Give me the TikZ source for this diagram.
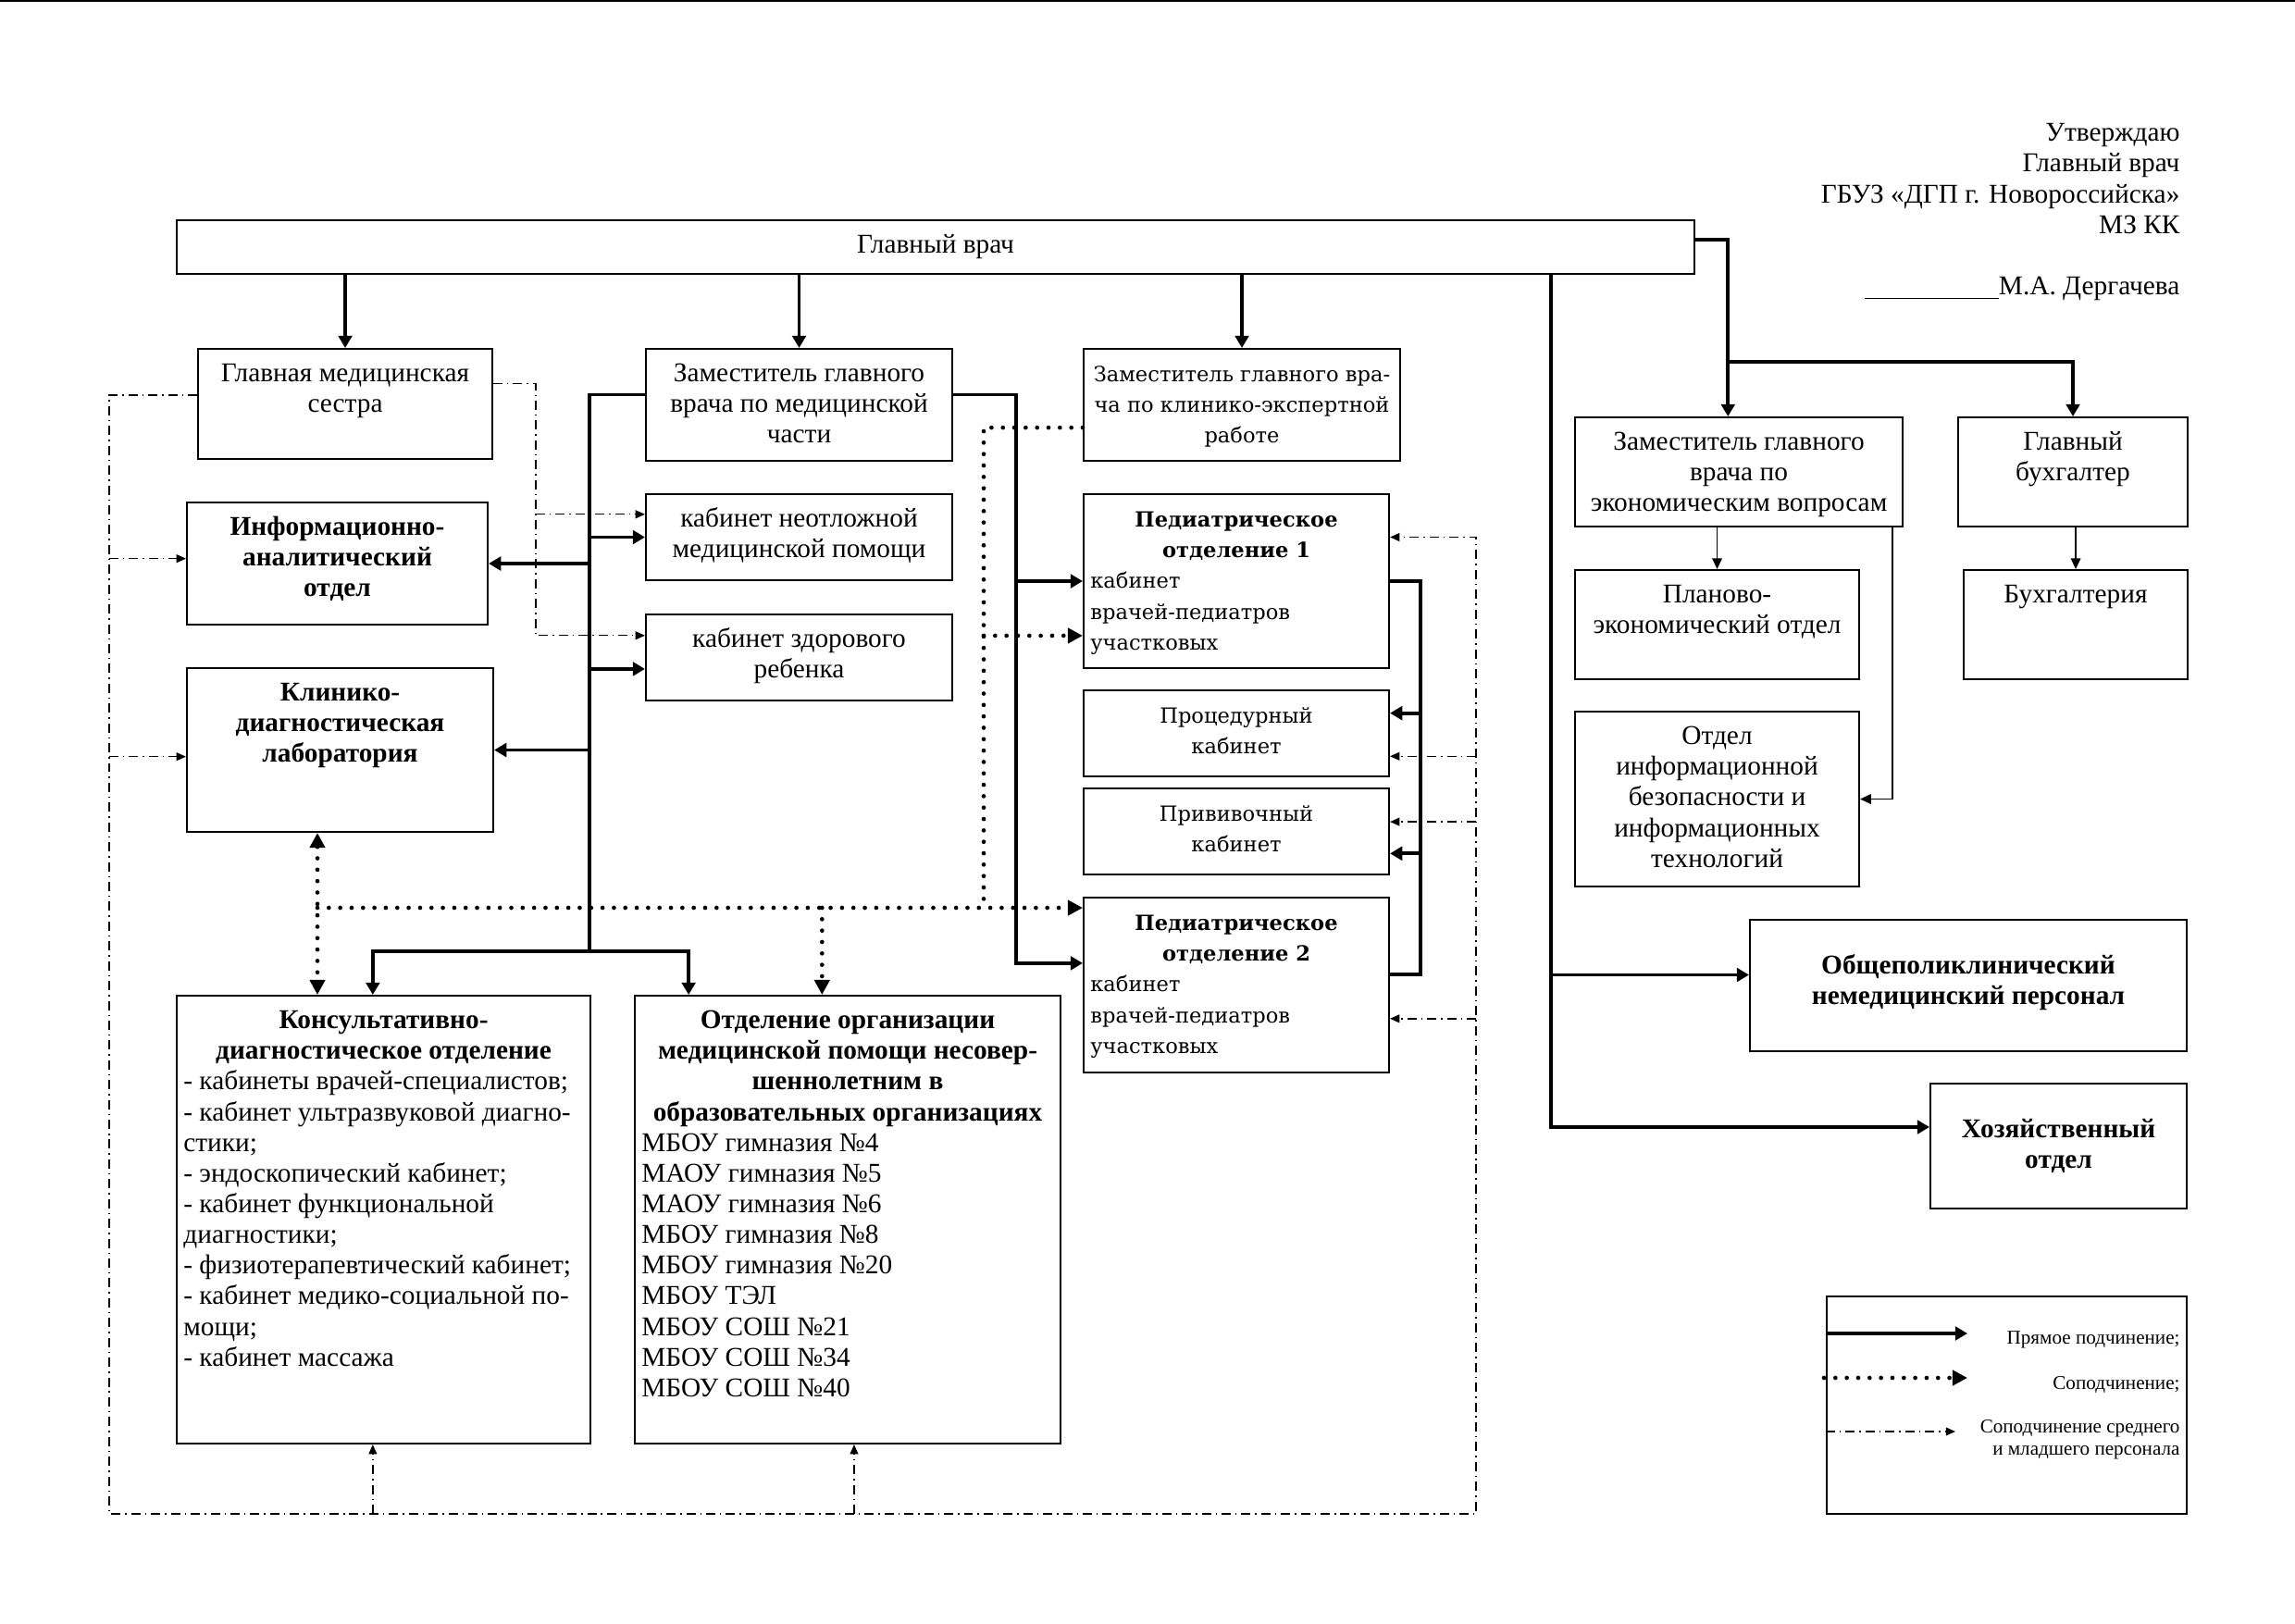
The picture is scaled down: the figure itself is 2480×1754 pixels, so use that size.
\documentclass[tikz,border=0pt]{standalone}
\usepackage{fontspec}
\setmainfont{Liberation Serif}
\newfontfamily\widefont{DejaVu Serif}
\usetikzlibrary{arrows.meta,calc,positioning}

\newdimen\px \px=0.011976cm
% text of a box: [gap] width height (in px), set from the top
\newcommand{\boxtxt}[4][4.2pt]{\parbox[c][#3\px][t]{#2\px}{\vspace*{#1}\centering\strut #4}}

\tikzset{
  box/.style={draw, line width=0.7pt, inner sep=0pt, anchor=north west,
    font=\fontsize{10}{11.3}\selectfont},
  widebox/.style={box, font=\widefont\fontsize{7.7}{11.3}\selectfont},
  legtext/.style={inner sep=0pt, align=right, font=\fontsize{7.2}{8.3}\selectfont},
  bus/.style={line width=1.3pt},
  direct/.style={bus, -{Triangle[length=4.5pt,width=5pt]}},
  thinarrow/.style={line width=0.6pt, -{Triangle[length=4pt,width=3.6pt]}},
  cosubline/.style={line width=1.6pt, line cap=round, dash pattern=on 0pt off 4.2pt},
  cosub/.style={cosubline, -{Triangle[length=5.5pt,width=5.5pt]}},
  staffline/.style={line width=0.45pt, dash pattern=on 3.4pt off 1.7pt on 0.5pt off 1.7pt},
  staff/.style={staffline, -{Triangle[length=3.5pt,width=3pt]}},
}

\begin{document}
\begin{tikzpicture}[x=0.011976cm, y=-0.011976cm]
\useasboundingbox (0,0) rectangle (2480,1754);
\draw[line width=0.7pt] (0,1) -- (2480,1);

% approval stamp
\node[anchor=north east, align=right, inner sep=0pt, font=\fontsize{10}{11.3}\selectfont] (appr) at (2356,133)
  {Утверждаю\\Главный врач\\ГБУЗ «ДГП г. Новороссийска»\\МЗ КК\\[11.3pt]\rule[-1.5pt]{1.74cm}{0.5pt}М.А. Дергачева};

% boxes
\node[box, minimum width=1640\px, minimum height=58\px] (main) at (190,237) {Главный врач};
\node[box] (gms) at (213,376) {\boxtxt{318}{119}{Главная медицинская\\сестра}};
\node[box] (zmed) at (697,376) {\boxtxt{331}{121}{Заместитель главного\\врача по медицинской\\части}};
\node[widebox] (zker) at (1170,376) {\boxtxt{342}{121}{Заместитель главного вра-\\ча по клинико-экспертной\\работе}};
\node[box] (inf) at (201,542) {\boxtxt{325}{132}{\textbf{Информационно-\\аналитический\\отдел}}};
\node[box] (neo) at (697,533) {\boxtxt{331}{93}{кабинет неотложной\\медицинской помощи}};
\node[box] (zdr) at (697,663) {\boxtxt{331}{93}{кабинет здорового\\ребенка}};
\node[box] (kdl) at (201,721) {\boxtxt{331}{177}{\textbf{Клинико-\\диагностическая\\лаборатория}}};
\node[widebox] (ped1) at (1170,533) {\boxtxt{330}{188}{\textbf{Педиатрическое\\отделение 1}\par
  \raggedright\leftskip=2.5pt кабинет\\врачей-педиатров\\участковых}};
\node[widebox] (proc) at (1170,745) {\boxtxt{330}{93}{Процедурный\\кабинет}};
\node[widebox] (priv) at (1170,851) {\boxtxt{330}{93}{Прививочный\\кабинет}};
\node[widebox] (ped2) at (1170,969) {\boxtxt{330}{189}{\textbf{Педиатрическое\\отделение 2}\par
  \raggedright\leftskip=2.5pt кабинет\\врачей-педиатров\\участковых}};
\node[box] (kdo) at (190,1075) {\boxtxt{447}{484}{\textbf{Консультативно-\\диагностическое отделение}\par
  \raggedright\leftskip=2.5pt - кабинеты врачей-специалистов;\\- кабинет ультразвуковой диагно-\\стики;\\- эндоскопический кабинет;\\- кабинет функциональной\\диагностики;\\- физиотерапевтический кабинет;\\- кабинет медико-социальной по-\\мощи;\\- кабинет массажа}};
\node[box] (oo) at (685,1075) {\boxtxt{460}{484}{\textbf{Отделение организации\\медицинской помощи несовер-\\шеннолетним в\\образовательных организациях}\par
  \raggedright\leftskip=2.5pt МБОУ гимназия №4\\МАОУ гимназия №5\\МАОУ гимназия №6\\МБОУ гимназия №8\\МБОУ гимназия №20\\МБОУ ТЭЛ\\МБОУ СОШ №21\\МБОУ СОШ №34\\МБОУ СОШ №40}};
\node[box] (zek) at (1701,450) {\boxtxt{354}{118}{Заместитель главного\\врача по\\экономическим вопросам}};
\node[box] (gbuh) at (2115,450) {\boxtxt{248}{118}{Главный\\бухгалтер}};
\node[box] (plan) at (1701,615) {\boxtxt{307}{118}{Планово-\\экономический отдел}};
\node[box] (buh) at (2121,615) {\boxtxt{242}{118}{Бухгалтерия}};
\node[box] (oib) at (1701,768) {\boxtxt{307}{189}{Отдел\\информационной\\безопасности и\\информационных\\технологий}};
\node[box] (obsh) at (1890,993) {\boxtxt[11.9pt]{472}{142}{\textbf{Общеполиклинический\\немедицинский персонал}}};
\node[box] (hoz) at (2085,1170) {\boxtxt[11.9pt]{277}{135}{\textbf{Хозяйственный\\отдел}}};
\node[box, minimum width=389\px, minimum height=235\px] (leg) at (1973,1400) {};

% direct subordination from the chief
\draw[direct] (main.south -| gms.north) -- (gms.north);
\draw[direct] (main.south -| zmed.north) -- (zmed.north);
\draw[direct] (main.south -| zker.north) -- (zker.north);
\coordinate (zekin) at ($(zek.north west)!.467!(zek.north east)$);
\coordinate (ebr) at (2000,391);
\draw[direct] ($(main.north east)!.36!(main.south east)$) -| (zekin);
\draw[direct] (zekin |- ebr) -| (gbuh.north);
\coordinate (hv) at (1676,700);
\draw[direct] (main.south -| hv) |- ($(obsh.north west)!.42!(obsh.south west)$);
\draw[direct] (main.south -| hv) |- ($(hoz.north west)!.35!(hoz.south west)$);

% deputy for medical part
\coordinate (lbus) at (637,1028);
\draw[bus] ($(zmed.north west)!.41!(zmed.south west)$) -| (lbus);
\draw[direct] (lbus |- neo.west) -- (neo.west);
\draw[direct] (lbus |- inf.east) -- (inf.east);
\coordinate (zdrin) at ($(zdr.north west)!.63!(zdr.south west)$);
\draw[direct] (lbus |- zdrin) -- (zdrin);
\draw[direct] (lbus |- kdl.east) -- (kdl.east);
\draw[direct] (lbus) -| ($(kdo.north west)!.474!(kdo.north east)$);
\draw[direct] (lbus) -| ($(oo.north west)!.128!(oo.north east)$);
\coordinate (rbus) at (1098,800);
\draw[direct] ($(zmed.north east)!.41!(zmed.south east)$) -| (rbus) |- ($(ped2.north west)!.376!(ped2.south west)$);
\draw[direct] (rbus |- ped1.west) -- (ped1.west);

% paediatric departments
\coordinate (pbus) at (1535,800);
\draw[bus] (ped1.east) -| (pbus) |- ($(ped2.north east)!.44!(ped2.south east)$);
\coordinate (procin) at ($(proc.north east)!.27!(proc.south east)$);
\coordinate (privin) at ($(priv.north east)!.75!(priv.south east)$);
\draw[direct] (pbus |- procin) -- (procin);
\draw[direct] (pbus |- privin) -- (privin);

% economics
\draw[thinarrow] (zek.south -| plan.north) -- (plan.north);
\draw[thinarrow] ($(zek.south west)!.966!(zek.south east)$) |- (oib.east);
\draw[thinarrow] (gbuh.south -| buh.north) -- (buh.north);

% co-subordination
\coordinate (kv) at (1063,981);
\coordinate (kl) at (343,981);
\draw[cosubline] ($(zker.north west)!.70!(zker.south west)$) -| (kv);
\coordinate (ped1dot) at ($(ped1.north west)!.81!(ped1.south west)$);
\draw[cosub] (kv |- ped1dot) -- (ped1dot);
\draw[cosub] (kl) -- ($(ped2.north west)!.063!(ped2.south west)$);
\draw[cosub, {Triangle[length=5.5pt,width=5.5pt]}-{Triangle[length=5.5pt,width=5.5pt]}] (kdl.south -| kl) -- (kdo.north -| kl);
\coordinate (oodot) at ($(oo.north west)!.44!(oo.north east)$);
\draw[cosub] (kl -| oodot) -- (oodot);

% nurses and junior staff
\coordinate (sm) at (579,600);
\draw[staff] ($(gms.north east)!.32!(gms.south east)$) -| (sm) |- ($(zdr.north west)!.25!(zdr.south west)$);
\coordinate (neos) at ($(neo.north west)!.24!(neo.south west)$);
\draw[staff] (sm |- neos) -- (neos);
\coordinate (sl) at (118,1636);
\coordinate (sr) at (1595,1636);
\draw[staff] ($(gms.north west)!.42!(gms.south west)$) -| (sl) -- (sr) |- ($(ped1.north east)!.25!(ped1.south east)$);
\coordinate (infs) at ($(inf.north west)!.46!(inf.south west)$);
\coordinate (kdls) at ($(kdl.north west)!.54!(kdl.south west)$);
\draw[staff] (sl |- infs) -- (infs);
\draw[staff] (sl |- kdls) -- (kdls);
\coordinate (kdos) at ($(kdo.south west)!.474!(kdo.south east)$);
\coordinate (oos) at ($(oo.south west)!.515!(oo.south east)$);
\draw[staff] (sl -| kdos) -- (kdos);
\draw[staff] (sl -| oos) -- (oos);
\coordinate (procs) at ($(proc.north east)!.76!(proc.south east)$);
\coordinate (privs) at ($(priv.north east)!.39!(priv.south east)$);
\coordinate (ped2s) at ($(ped2.north east)!.69!(ped2.south east)$);
\draw[staff] (sr |- procs) -- (procs);
\draw[staff] (sr |- privs) -- (privs);
\draw[staff] (sr |- ped2s) -- (ped2s);

% legend
\coordinate (lg1) at ($(leg.north west)+(0,41)$);
\coordinate (lg2) at ($(leg.north west)+(-2,89)$);
\coordinate (lg3) at ($(leg.north west)+(0,147)$);
\draw[direct, line width=1.6pt] (lg1) -- ++(153,0);
\draw[cosub] (lg2) -- ++(155,0);
\draw[staff] (lg3) -- ++(140,0);
\node[legtext, anchor=east] (lt1) at ($(leg.north east)+(-8,48)$) {Прямое подчинение;};
\node[legtext, anchor=east] (lt2) at ($(leg.north east)+(-8,97)$) {Соподчинение;};
\node[legtext, anchor=east] (lt3) at ($(leg.north east)+(-8,156)$) {Соподчинение среднего\\и младшего персонала};
\end{tikzpicture}
\end{document}
